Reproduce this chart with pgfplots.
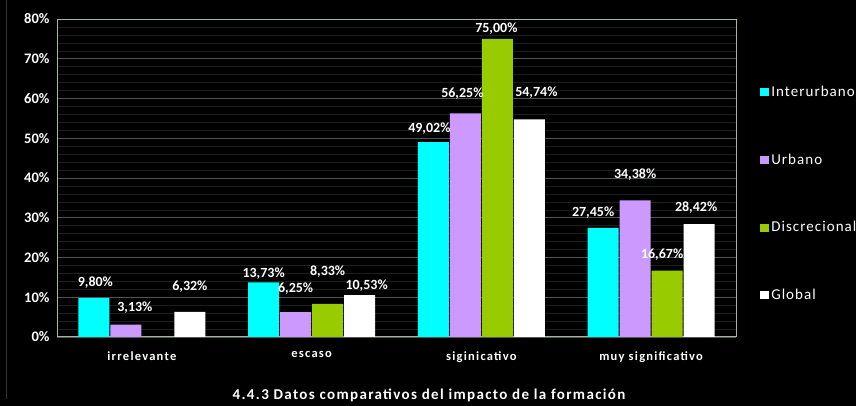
\documentclass[border=0pt]{standalone}
\usepackage{fontspec}
\setmainfont{Carlito}
\usepackage{pgfplots}
\usepackage{pgfplotstable}
\pgfplotsset{compat=1.18}

\definecolor{interurbano}{HTML}{00FFFF}
\definecolor{urbano}{HTML}{CC99FF}
\definecolor{discrecional}{HTML}{99CC00}
\definecolor{framecol}{HTML}{A3B89E}
\definecolor{gridcol}{HTML}{4F574D}
\definecolor{minorcol}{HTML}{1C1F1B}

% x = category, y = percent, dx/dy = label offset from bar top (pt)
\pgfplotstableread{
x y     dx   dy
0 9.80  1.5  15
1 13.73 0    9
2 49.02 -4   14
3 27.45 -10  15
}\tabInter
\pgfplotstableread{
x y     dx   dy
0 3.13  9    16.5
1 6.25  0    24
2 56.25 -3   20
3 34.38 0    26
}\tabUrb
\pgfplotstableread{
x y     dx   dy
1 8.33  0    32
2 75.00 -1   10
3 16.67 -5   16
}\tabDisc
\pgfplotstableread{
x y     dx   dy
0 6.32  0    25
1 10.53 7    10
2 54.74 7    27
3 28.42 -3   16
}\tabGlob

\begin{document}
\begin{tikzpicture}
    % slide background
    \fill[black] (-57pt,-69pt) rectangle (799pt,337pt);
    \draw[gray!40!black, line width=1pt] (-50pt,-62pt) -- (-50pt,337pt);
    \begin{axis} [
        at={(0pt,0pt)}, anchor=south west,
        width=679pt, height=318pt, scale only axis=true,
        ybar=1pt, bar width=31pt,
        xmin=-0.5, xmax=3.5, ymin=0, ymax=80,
        xtick={0,1,2,3},
        xticklabels={irrelevante,escaso,siginicativo,muy significativo},
        ytick={0,10,...,80},
        yticklabel={\pgfmathprintnumber{\tick}\%},
        /pgf/number format/assume math mode=true,
        major tick length=0pt, minor tick length=0pt,
        minor y tick num=4,
        ymajorgrids, yminorgrids,
        major grid style={gridcol, line width=0.8pt},
        minor grid style={minorcol, line width=0.5pt},
        axis line style={framecol, line width=1pt},
        yticklabel style={text=white, font=\bfseries\fontsize{14.5}{16}\selectfont, xshift=-4pt},
        xticklabel style={text=white, font=\bfseries\fontsize{12.5}{14}\selectfont\addfontfeature{LetterSpace=10}, yshift=-11pt},
        visualization depends on={\thisrow{dx} \as \labdx},
        visualization depends on={\thisrow{dy} \as \labdy},
        nodes near coords={\pgfmathprintnumber[fixed,fixed zerofill,precision=2,use comma]{\pgfplotspointmeta}\%},
        every node near coord/.append style={text=white, font=\bfseries\fontsize{14}{16}\selectfont,
            anchor=center, xshift=\labdx pt, yshift=\labdy pt},
        legend cell align=left,
        legend image code/.code={\fill[#1] (0pt,-4pt) rectangle (9pt,4pt);},
        legend style={at={(1.031,0.451)}, anchor=west, draw=none, fill=none, text=white,
            font=\fontsize{15}{17}\selectfont\addfontfeature{LetterSpace=7}, row sep=52pt},
    ]
    \addplot[fill=interurbano, draw=none] table[x=x, y=y] {\tabInter};
    \addplot[fill=urbano, draw=none] table[x=x, y=y] {\tabUrb};
    \addplot[fill=discrecional, draw=none] table[x=x, y=y] {\tabDisc};
    \addplot[fill=white, draw=none] table[x=x, y=y] {\tabGlob};
    \legend{Interurbano, Urbano, Discrecional, Global}
    \end{axis}
    \node[text=white, font=\bfseries\fontsize{15}{17}\selectfont\addfontfeature{LetterSpace=9}]
        at (372pt,-58pt) {4.4.3 Datos comparativos del impacto de la formación};
    \pgfresetboundingbox
    \useasboundingbox (-57pt,-69pt) rectangle (799pt,337pt);
\end{tikzpicture}
\end{document}
